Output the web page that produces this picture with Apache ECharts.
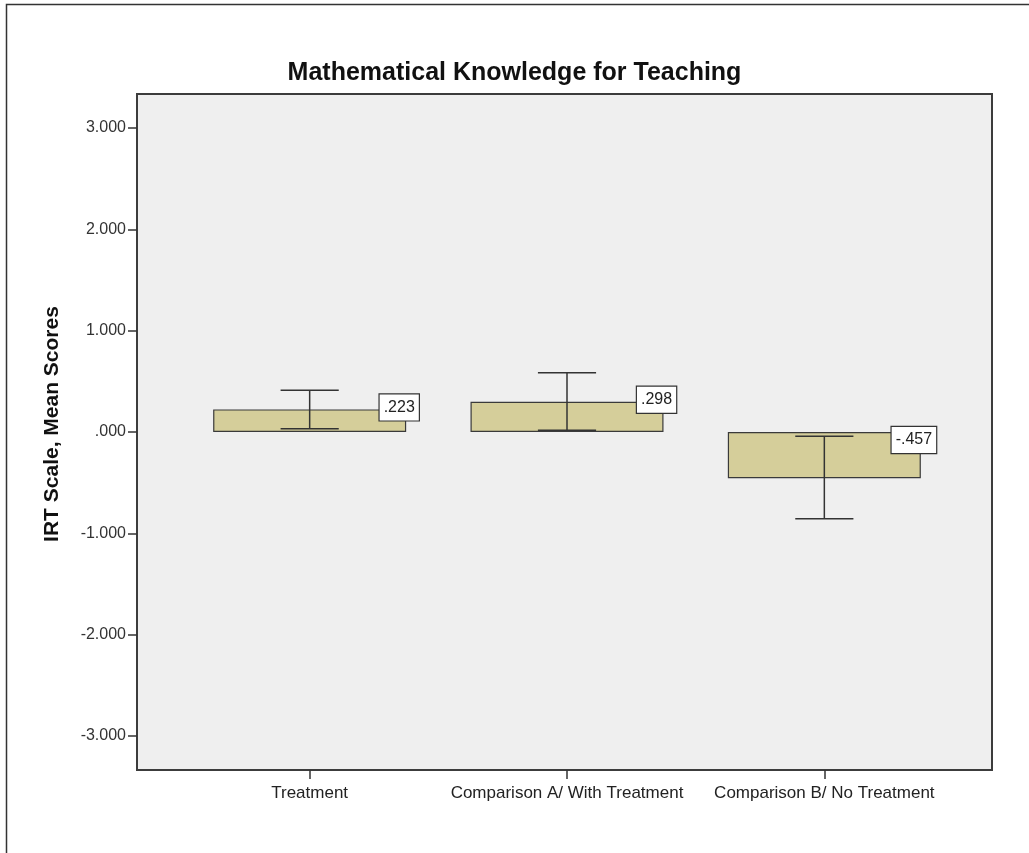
<!DOCTYPE html>
<html>
<head>
<meta charset="utf-8">
<script src="https://cdn.jsdelivr.net/npm/echarts@6/dist/echarts.min.js"></script>
<style>
html,body{margin:0;padding:0;background:#fff;}
#chart{width:1029px;height:853px;}
</style>
</head>
<body>
<div id="chart"></div>
<script>
var categories = ['Treatment', 'Comparison A/ With Treatment', 'Comparison B/ No Treatment'];
var means = [0.223, 0.298, -0.457];
var ciLower = [0.032, 0.018, -0.857];
var ciUpper = [0.413, 0.584, -0.042];
var yTicks = [-3, -2, -1, 0, 1, 2, 3];
var titleText = 'Mathematical Knowledge for Teaching';
var yAxisTitle = 'IRT Scale, Mean Scores';

function fmt(v) {
  return v.toFixed(3).replace(/^(-?)0\./, '$1.');
}

var FONT = "'Liberation Sans', Arial, sans-serif";
var chart = echarts.init(document.getElementById('chart'), null, {renderer: 'canvas'});

var option = {
  backgroundColor: '#ffffff',
  animation: false,
  title: {
    text: titleText,
    left: 'center',
    top: 56,
    textStyle: {fontFamily: FONT, fontSize: 25, fontWeight: 'bold', color: '#111'}
  },
  graphic: [{
    type: 'rect',
    left: 4, top: 2,
    shape: {width: 1060, height: 900},
    style: {fill: 'none', stroke: '#333', lineWidth: 1.5},
    z: 100
  }, {
    type: 'text',
    x: 52, y: 424,
    rotation: Math.PI / 2,
    style: {
      text: yAxisTitle,
      font: 'bold 21px ' + FONT,
      fill: '#111',
      align: 'center',
      verticalAlign: 'middle'
    },
    z: 100
  }],
  grid: [
    {left: 137, right: 37, top: 94, bottom: 83, show: true, backgroundColor: '#efefef', borderColor: '#3c3c3c', borderWidth: 2, z: 0},
    {left: 137, right: 37, top: 128, bottom: 117},
    {left: 181, right: 76, top: 128, bottom: 117}
  ],
  xAxis: [
    {gridIndex: 0, type: 'value', show: false},
    {gridIndex: 1, type: 'value', show: false},
    {
      gridIndex: 2, type: 'category', data: categories, position: 'bottom', offset: 34,
      axisLine: {show: false, onZero: false},
      axisTick: {show: true, alignWithLabel: true, length: 9, lineStyle: {color: '#333', width: 1.5}},
      axisLabel: {fontFamily: FONT, fontSize: 17, color: '#222', margin: 15, interval: 0}
    }
  ],
  yAxis: [
    {gridIndex: 0, type: 'value', show: false},
    {
      gridIndex: 1, type: 'value', min: yTicks[0], max: yTicks[yTicks.length - 1], interval: 1,
      axisLine: {show: false, onZero: false},
      axisTick: {show: true, length: 9, lineStyle: {color: '#333', width: 1.5}},
      splitLine: {show: false},
      axisLabel: {fontFamily: FONT, fontSize: 16, color: '#333', margin: 11, formatter: function (v) { return fmt(v); }}
    },
    {gridIndex: 2, type: 'value', min: yTicks[0], max: yTicks[yTicks.length - 1], show: false}
  ],
  series: [
    {
      type: 'bar',
      xAxisIndex: 2, yAxisIndex: 2,
      data: means,
      barWidth: '75%',
      itemStyle: {color: '#d5ce9a', borderColor: '#3a3a3a', borderWidth: 1.2},
      z: 2
    },
    {
      type: 'custom',
      xAxisIndex: 2, yAxisIndex: 2,
      data: categories.map(function (c, i) { return [i, ciLower[i], ciUpper[i]]; }),
      renderItem: function (params, api) {
        var x = api.value(0);
        var pHi = api.coord([x, api.value(2)]);
        var pLo = api.coord([x, api.value(1)]);
        var half = api.size([1, 0])[0] * 0.113;
        var st = {stroke: '#333', lineWidth: 1.5};
        return {
          type: 'group',
          children: [
            {type: 'line', shape: {x1: pHi[0], y1: pHi[1], x2: pLo[0], y2: pLo[1]}, style: st},
            {type: 'line', shape: {x1: pHi[0] - half, y1: pHi[1], x2: pHi[0] + half, y2: pHi[1]}, style: st},
            {type: 'line', shape: {x1: pLo[0] - half, y1: pLo[1], x2: pLo[0] + half, y2: pLo[1]}, style: st}
          ]
        };
      },
      z: 3
    },
    {
      type: 'custom',
      xAxisIndex: 2, yAxisIndex: 2,
      data: means.map(function (m, i) { return [i, m]; }),
      renderItem: function (params, api) {
        var i = api.value(0), v = api.value(1);
        var bw = api.size([1, 0])[0];
        var p = api.coord([i, v >= 0 ? v : 0]);
        var y = v >= 0 ? p[1] - 2 : p[1] + 8;
        return {
          type: 'text',
          x: p[0] + bw * 0.348,
          y: y,
          style: {
            text: fmt(v),
            font: '16px ' + FONT,
            fill: '#222',
            align: 'center',
            verticalAlign: 'middle',
            backgroundColor: '#ffffff',
            borderColor: '#333',
            borderWidth: 1.2,
            padding: [6, 4, 4, 4]
          }
        };
      },
      z: 5
    }
  ]
};
chart.setOption(option);
</script>
</body>
</html>
